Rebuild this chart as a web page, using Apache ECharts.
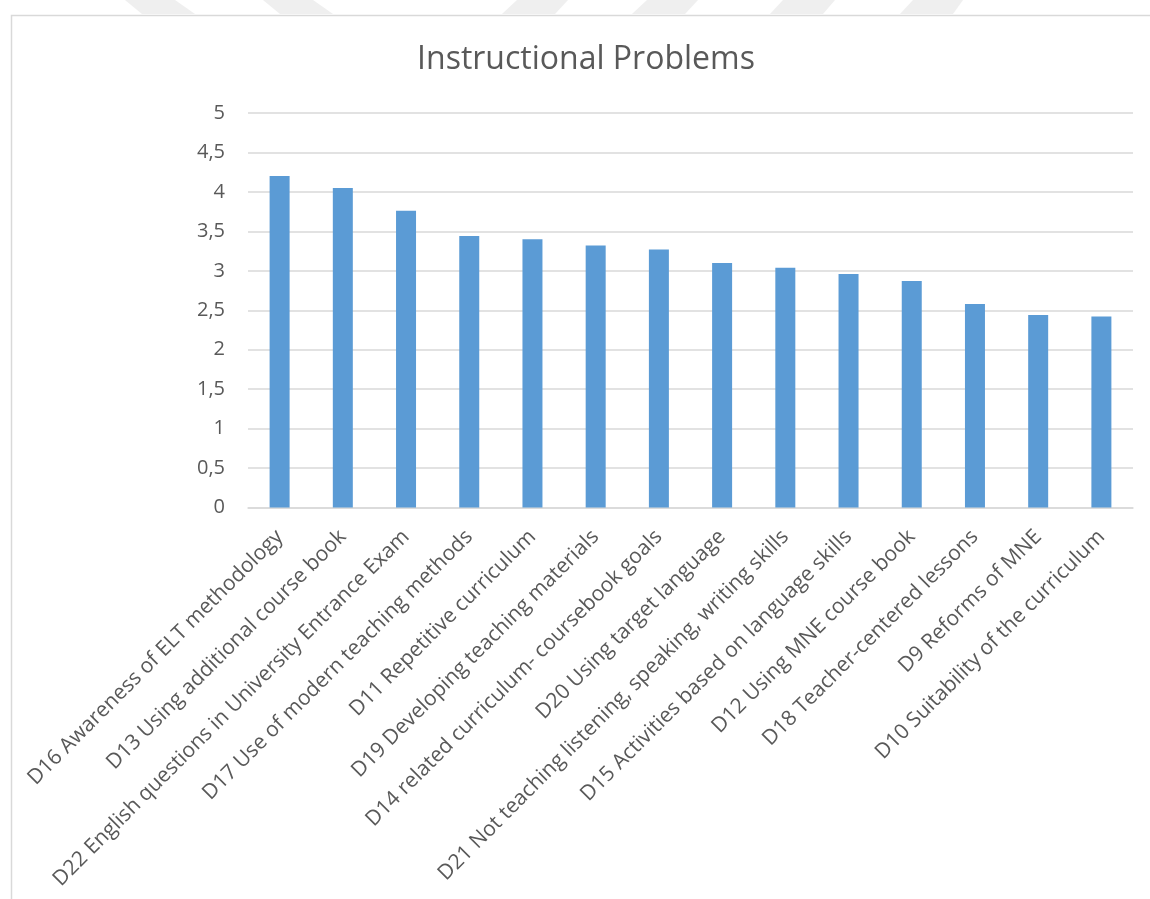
<!DOCTYPE html>
<html>
<head>
<meta charset="utf-8">
<title>Instructional Problems</title>
<script src="https://cdn.jsdelivr.net/npm/echarts@6/dist/echarts.min.js"></script>
<style>
  html, body { margin: 0; padding: 0; background: #ffffff; }
  #chart { width: 1150px; height: 899px; }
</style>
</head>
<body>
<div id="chart"></div>
<script>
// Item categories, in the order shown (highest mean first)
const categories = [
  'D16 Awareness of ELT methodology',
  'D13 Using additional course book',
  'D22 English questions in University Entrance Exam',
  'D17 Use of modern teaching methods',
  'D11 Repetitive curriculum',
  'D19 Developing teaching materials',
  'D14 related curriculum- coursebook goals',
  'D20 Using target language',
  'D21 Not teaching listening, speaking, writing skills',
  'D15 Activities based on language skills',
  'D12 Using MNE course book',
  'D18 Teacher-centered lessons',
  'D9 Reforms of MNE',
  'D10 Suitability of the curriculum'
];

// Mean scores per item
const meanScores = [4.20, 4.05, 3.76, 3.44, 3.40, 3.32, 3.27, 3.10, 3.04, 2.96, 2.87, 2.58, 2.44, 2.42];

// Value axis ticks
const yTicks = [0, 0.5, 1, 1.5, 2, 2.5, 3, 3.5, 4, 4.5, 5];

const chartTitle = 'Instructional Problems';

const textGray = '#595959';
const gridGray = '#d9d9d9';
const fontStack = '"Open Sans", "Noto Sans", sans-serif';

// Pale diagonal bands along the top edge of the page
const bandColor = '#efefef';
const bands = [
  [[125, 0], [175, 0], [195, 14], [142, 14]],
  [[263, 0], [313, 0], [333, 14], [280, 14]],
  [[517, 0], [568, 0], [555, 14], [502, 14]],
  [[647, 0], [698, 0], [685, 14], [632, 14]],
  [[783, 0], [835, 0], [823, 14], [770, 14]],
  [[913, 0], [963, 0], [953, 14], [900, 14]]
];

const chart = echarts.init(document.getElementById('chart'), null, { renderer: 'canvas' });

const graphics = bands.map(pts => ({
  type: 'polygon',
  shape: { points: pts },
  style: { fill: bandColor },
  silent: true,
  z: -10
}));
// Outer chart frame
graphics.push({
  type: 'rect',
  shape: { x: 11.5, y: 15.5, width: 1200, height: 1000 },
  style: { fill: 'none', stroke: gridGray, lineWidth: 1.5 },
  silent: true,
  z: -5
});
// Chart title, centred over the plot
graphics.push({
  type: 'text',
  x: 586,
  y: 60,
  style: {
    text: chartTitle,
    fill: textGray,
    font: '32px ' + fontStack,
    textAlign: 'center',
    textVerticalAlign: 'middle'
  },
  silent: true
});

chart.setOption({
  animation: false,
  backgroundColor: '#ffffff',
  textStyle: { fontFamily: fontStack },
  graphic: graphics,
  grid: {
    left: 248,
    right: 17,
    top: 113,
    bottom: 391.5,
    containLabel: false
  },
  xAxis: {
    type: 'category',
    data: categories,
    axisLine: { show: true, lineStyle: { color: gridGray, width: 1.5 } },
    axisTick: { show: false },
    axisLabel: {
      interval: 0,
      rotate: 45,
      margin: 26,
      color: textGray,
      fontSize: 21,
      fontFamily: fontStack
    }
  },
  yAxis: {
    type: 'value',
    min: yTicks[0],
    max: yTicks[yTicks.length - 1],
    interval: yTicks[1] - yTicks[0],
    axisLine: { show: false },
    axisTick: { show: false },
    splitLine: { lineStyle: { color: gridGray, width: 1.5 } },
    axisLabel: {
      margin: 23,
      color: textGray,
      fontSize: 20,
      fontFamily: fontStack,
      formatter: v => String(v).replace('.', ',')
    }
  },
  series: [{
    type: 'bar',
    data: meanScores,
    barWidth: 20,
    itemStyle: { color: '#5b9bd5' }
  }]
});
</script>
</body>
</html>
